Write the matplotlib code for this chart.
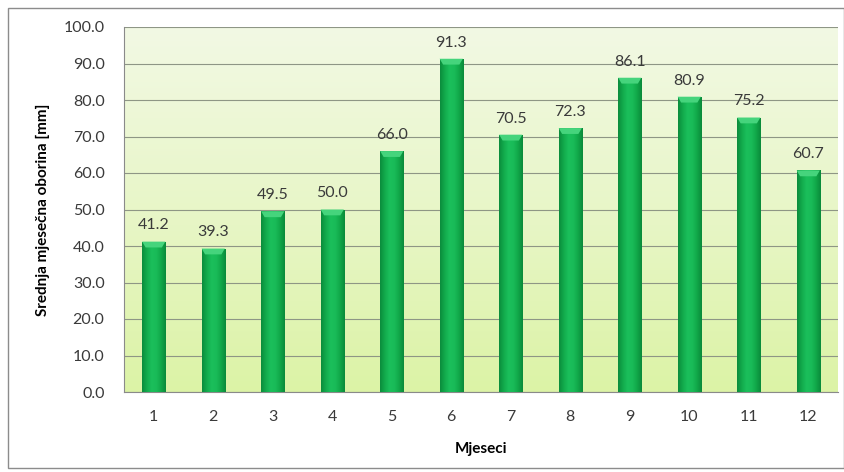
import numpy as np
import matplotlib.pyplot as plt
from matplotlib.colors import LinearSegmentedColormap
from matplotlib.patches import Rectangle, Polygon

# Data
months = ["1", "2", "3", "4", "5", "6", "7", "8", "9", "10", "11", "12"]
precip = [41.2, 39.3, 49.5, 50.0, 66.0, 91.3, 70.5, 72.3, 86.1, 80.9, 75.2, 60.7]
y_ticks = [0, 10, 20, 30, 40, 50, 60, 70, 80, 90, 100]

plt.rcParams["font.family"] = ["Lato", "DejaVu Sans"]

fig = plt.figure(figsize=(8.45, 4.72), dpi=100)
fig.patch.set_facecolor("white")
fig.patches.append(Rectangle((8 / 845, 4 / 472), 836 / 845, 460 / 472,
                             transform=fig.transFigure, fill=False,
                             edgecolor="#8c8c8c", linewidth=1.0))

ax = fig.add_axes([124 / 845, 80 / 472, 714 / 845, 365 / 472])
x = np.arange(len(months))
ax.set_xlim(-0.5, len(months) - 0.5)
ax.set_ylim(0, 100)

# background gradient of the plot area (pale at top, more green at bottom)
bg = LinearSegmentedColormap.from_list("bg", ["#dcf3a6", "#e8f6c8", "#f2f9e4"])
ax.imshow(np.linspace(0, 1, 256).reshape(-1, 1), cmap=bg, aspect="auto",
          extent=(-0.5, len(months) - 0.5, 0, 100), origin="lower", zorder=0)

ax.set_yticks(y_ticks)
ax.yaxis.grid(True, color="#8e9685", linewidth=0.8)
ax.set_axisbelow(True)
for gl in ax.get_ygridlines():
    gl.set_zorder(1)

# green bars with a horizontal shading
bar_cmap = LinearSegmentedColormap.from_list(
    "bar", ["#0b8c3c", "#12ab4c", "#1bbf5b", "#19bb58", "#11a849", "#0a8a3a"])
shade = np.linspace(0, 1, 64).reshape(1, -1)
bars = ax.bar(x, precip, width=0.39, color="#14b04e", edgecolor="#0a6e30",
              linewidth=0.6, zorder=2)
for b in bars:
    x0, w, h = b.get_x(), b.get_width(), b.get_height()
    im = ax.imshow(shade, cmap=bar_cmap, aspect="auto",
                   extent=(x0, x0 + w, 0, h), zorder=3)
    im.set_clip_path(b)
    # light bevel at the top
    ax.add_patch(Polygon([(x0, h), (x0 + w, h), (x0 + w * 0.85, h - 1.6),
                          (x0 + w * 0.15, h - 1.6)], closed=True,
                         facecolor="#45d47c", edgecolor="none", zorder=4))
    ax.text(x0 + w / 2, h + 2.5, f"{h:.1f}", ha="center", va="bottom",
            fontsize=11.5, color="#3a3a3a", zorder=5)

ax.set_xticks(x)
ax.set_xticklabels(months)
ax.set_yticklabels([f"{v:.1f}" for v in y_ticks])
ax.tick_params(axis="both", labelsize=11.5, colors="#3a3a3a", length=0)
ax.tick_params(axis="x", pad=13)
ax.tick_params(axis="y", pad=14)

for side in ["top", "right"]:
    ax.spines[side].set_visible(False)
ax.spines["left"].set_color("#8a8a8a")
ax.spines["bottom"].set_color("#8a8a8a")

ax.set_xlabel("Mjeseci", fontsize=11, fontweight="bold", labelpad=13)
ax.set_ylabel("Srednja mjesečna oborina [mm]", fontsize=11,
              fontweight="bold", labelpad=10)

fig.savefig("out.png", dpi=100)
